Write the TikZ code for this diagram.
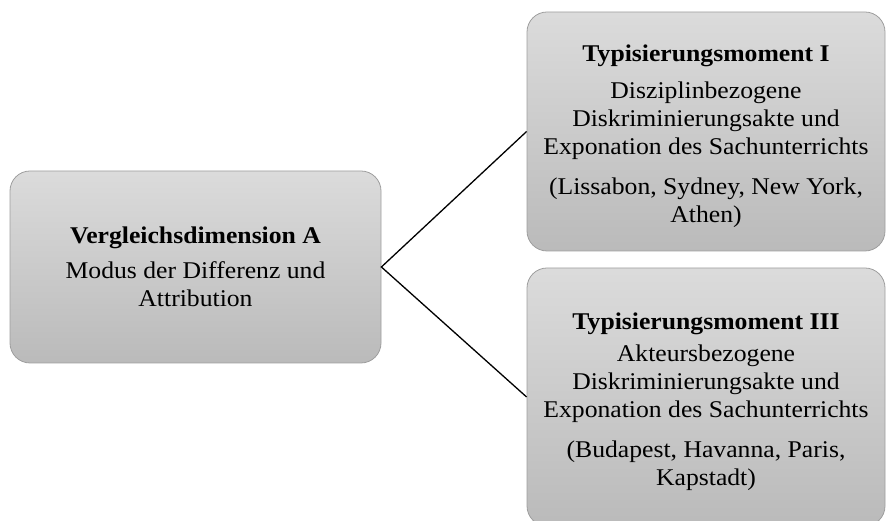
\documentclass[tikz,border=0pt]{standalone}
\usepackage{fontspec}
\setmainfont{Liberation Serif}[FakeStretch=1.07]
\begin{document}
\begin{tikzpicture}[x=1pt,y=1pt,
  box/.style={draw=black!38, line width=0.8pt, rounded corners=20pt,
    top color=black!14, bottom color=black!27},
  txt/.style={align=center, inner sep=0pt, font=\fontsize{24}{28}\selectfont},
  link/.style={draw=black, line width=1.3pt}]
\useasboundingbox (0,0) rectangle (886,521);
\clip (0,0) rectangle (886,521);

% comparison dimension
\node[box, minimum width=371pt, minimum height=192pt] (dimA) at (195.5,254) {};
\node[txt] (dimAtext) at (dimA.center)
  {\textbf{Vergleichsdimension A}\\[7pt]
   Modus der Differenz und\\ Attribution};

% typification moments
\node[box, minimum width=358pt, minimum height=239pt] (momI) at (706,389.5) {};
\node[txt] (momItext) at ([yshift=-4.5pt]momI.center)
  {\textbf{Typisierungsmoment I}\\[9pt]
   Disziplinbezogene\\ Diskriminierungsakte und\\ Exponation des Sachunterrichts\\[12pt]
   (Lissabon, Sydney, New York,\\ Athen)};

\node[box, minimum width=358pt, minimum height=258pt] (momIII) at (706,124) {};
\node[txt] (momIIItext) at ([yshift=-5pt]momIII.center)
  {\textbf{Typisierungsmoment III}\\[4pt]
   Akteursbezogene\\ Diskriminierungsakte und\\ Exponation des Sachunterrichts\\[12pt]
   (Budapest, Havanna, Paris,\\ Kapstadt)};

% connectors
\draw[link] (momI.west) -- (dimA.east) -- (momIII.west);
\end{tikzpicture}
\end{document}
